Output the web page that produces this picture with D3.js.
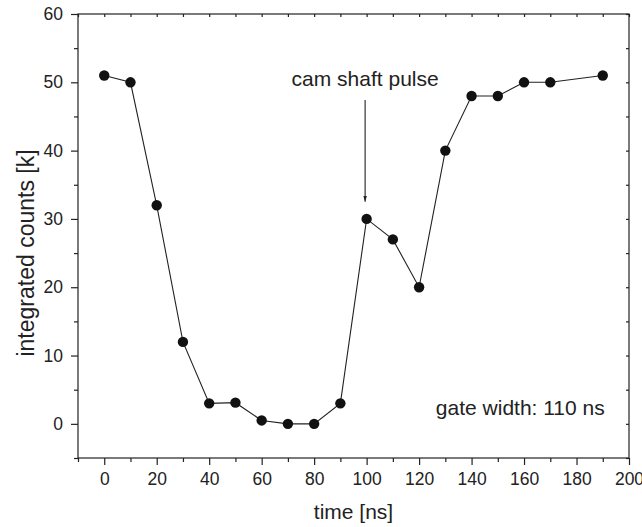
<!DOCTYPE html>
<html>
<head>
<meta charset="utf-8">
<script src="https://cdn.jsdelivr.net/npm/d3@7"></script>
<style>
  body { margin: 0; background: #fff; }
  text { font-family: "Liberation Sans", Arial, sans-serif; fill: #222; }
</style>
</head>
<body>
<div id="chart"></div>
<script>
// Data
var times = [0, 10, 20, 30, 40, 50, 60, 70, 80, 90, 100, 110, 120, 130, 140, 150, 160, 170, 190];
var counts = [51, 50, 32, 12, 3, 3.1, 0.5, 0, 0, 3, 30, 27, 20, 40, 48, 48, 50, 50, 51];
var xTicks = [0, 20, 40, 60, 80, 100, 120, 140, 160, 180, 200];
var xMinor = [-10, 10, 30, 50, 70, 90, 110, 130, 150, 170, 190];
var yTicks = [0, 10, 20, 30, 40, 50, 60];
var yMinor = [-5, 5, 15, 25, 35, 45, 55];

var data = times.map(function(t, i) { return { t: t, c: counts[i] }; });

var W = 642, H = 527;
var margin = { top: 14, right: 13, bottom: 69, left: 78 };
var width = W - margin.left - margin.right;
var height = H - margin.top - margin.bottom;

var svg = d3.select("#chart").append("svg")
  .attr("width", W).attr("height", H)
  .append("g")
  .attr("transform", "translate(" + margin.left + "," + margin.top + ")");

var x = d3.scaleLinear().domain([-10, 200]).range([0, width]);
var y = d3.scaleLinear().domain([-5, 60]).range([height, 0]);

// Frame
svg.append("rect")
  .attr("width", width).attr("height", height)
  .attr("fill", "none").attr("stroke", "#222").attr("stroke-width", 1.2);

function styleAxis(g) {
  g.select(".domain").remove();
  g.selectAll("line").attr("stroke", "#222").attr("stroke-width", 1.2);
  g.selectAll("text").style("font-size", "17.5px").attr("fill", "#222");
}

// Bottom axis
svg.append("g").attr("transform", "translate(0," + height + ")")
  .call(d3.axisBottom(x).tickValues(xTicks).tickSize(7).tickPadding(8).tickFormat(d3.format("d")))
  .call(styleAxis);
svg.append("g").attr("transform", "translate(0," + height + ")")
  .call(d3.axisBottom(x).tickValues(xMinor).tickSize(4).tickFormat(""))
  .call(styleAxis);

// Left axis
svg.append("g")
  .call(d3.axisLeft(y).tickValues(yTicks).tickSize(7).tickPadding(8).tickFormat(d3.format("d")))
  .call(styleAxis);
svg.append("g")
  .call(d3.axisLeft(y).tickValues(yMinor).tickSize(4).tickFormat(""))
  .call(styleAxis);

// Top and right axes (inward ticks, no labels)
svg.append("g")
  .call(d3.axisTop(x).tickValues(xTicks.concat(xMinor)).tickSize(-3).tickFormat(""))
  .call(styleAxis);
svg.append("g").attr("transform", "translate(" + width + ",0)")
  .call(d3.axisRight(y).tickValues(yTicks.concat(yMinor)).tickSize(-3).tickFormat(""))
  .call(styleAxis);

// Line
var line = d3.line()
  .x(function(d) { return x(d.t); })
  .y(function(d) { return y(d.c); });

svg.append("path")
  .datum(data)
  .attr("fill", "none")
  .attr("stroke", "#222")
  .attr("stroke-width", 1.1)
  .attr("d", line);

// Points
svg.selectAll(".dot")
  .data(data)
  .enter().append("circle")
  .attr("class", "dot")
  .attr("cx", function(d) { return x(d.t); })
  .attr("cy", function(d) { return y(d.c); })
  .attr("r", 5.2)
  .attr("fill", "#111");

// Annotation arrow
svg.append("defs").append("marker")
  .attr("id", "arrow")
  .attr("viewBox", "0 0 10 10")
  .attr("refX", 10).attr("refY", 5)
  .attr("markerWidth", 6).attr("markerHeight", 12)
  .attr("markerUnits", "userSpaceOnUse")
  .attr("orient", "auto")
  .append("path")
  .attr("d", "M0,2 L10,5 L0,8 Z")
  .attr("fill", "#222");

svg.append("line")
  .attr("x1", x(100) - 1.5).attr("x2", x(100) - 1.5)
  .attr("y1", y(47.4)).attr("y2", y(32.5))
  .attr("stroke", "#222").attr("stroke-width", 1.1)
  .attr("marker-end", "url(#arrow)");

svg.append("text")
  .attr("x", x(100) - 1.5)
  .attr("y", y(49.4))
  .attr("text-anchor", "middle")
  .style("font-size", "21px")
  .text("cam shaft pulse");

svg.append("text")
  .attr("x", x(190) + 2)
  .attr("y", y(1.3))
  .attr("text-anchor", "end")
  .style("font-size", "21px")
  .text("gate width: 110 ns");

// Axis titles
svg.append("text")
  .attr("x", x(95))
  .attr("y", height + 61)
  .attr("text-anchor", "middle")
  .style("font-size", "21px")
  .text("time [ns]");

svg.append("text")
  .attr("transform", "rotate(-90)")
  .attr("x", -239)
  .attr("y", -44.5)
  .attr("text-anchor", "middle")
  .style("font-size", "23px")
  .text("integrated counts [k]");
</script>
</body>
</html>
